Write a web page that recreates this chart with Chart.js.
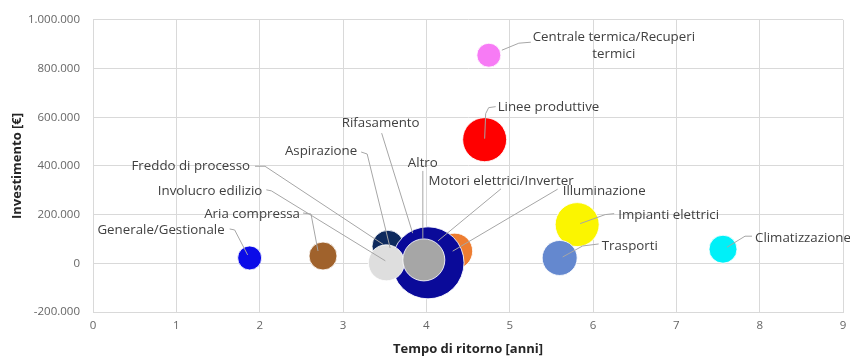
<!DOCTYPE html>
<html>
<head>
<meta charset="utf-8">
<script src="https://cdn.jsdelivr.net/npm/chart.js@4.4.1/dist/chart.umd.min.js"></script>
<style>
  html, body { margin: 0; padding: 0; background: #fff; }
  #wrap { width: 850px; height: 358px; }
</style>
</head>
<body>
<div id="wrap"><canvas id="chart"></canvas></div>
<script>
// categories in drawing order (back to front)
const names = [
  'Rifasamento', 'Aspirazione', 'Freddo di processo', 'Illuminazione',
  'Motori elettrici/Inverter', 'Involucro edilizio', 'Altro',
  'Generale/Gestionale', 'Aria compressa', 'Linee produttive',
  'Centrale termica/Recuperi termici', 'Impianti elettrici', 'Trasporti', 'Climatizzazione'
];
// tempo di ritorno [anni]
const payback = [3.92, 3.71, 3.54, 4.34, 4.02, 3.52, 3.97, 1.88, 2.76, 4.70, 4.75, 5.81, 5.60, 7.56];
// investimento [€]
const investment = [50000, 30000, 70000, 50000, 2000, 2000, 14000, 22000, 30000, 508000, 855000, 159000, 22000, 58000];
// bubble size
const bubbleSize = [10, 8, 16, 18, 36, 18, 21, 12, 14, 22, 12, 22, 17.5, 14];

const xTicks = [0, 1, 2, 3, 4, 5, 6, 7, 8, 9];
const yTicks = [-200000, 0, 200000, 400000, 600000, 800000, 1000000];

const colors = [
  '#1f3864', '#1f3864', '#0e2a5e', '#ed7d31', '#0a0a99', '#dedede', '#a6a6a6',
  '#0b0be8', '#a0622c', '#ff0000', '#f77bf5', '#fbf500', '#6488cf', '#00f0f8'
];

// label placement relative to the bubble centre (px): text anchor, alignment, leader path
const labelLayout = {
  'Generale/Gestionale': { t: [-25, -28], a: 'right', p: [[-20, -29], [-15, -28], [-2, -3]] },
  'Aria compressa': { t: [-23, -42], a: 'right', p: [[-20, -43], [-12, -42], [-5, -5]] },
  'Freddo di processo': { t: [-138, -80], a: 'right', p: [[-133, -80], [-123, -80], [-5, -2]] },
  'Aspirazione': { t: [-45, -105], a: 'right', p: [[-41, -104], [-35, -102], [-12, -8]] },
  'Rifasamento': { t: [-39, -128], a: 'center', p: [[-38, -118], [-7, -18]] },
  'Illuminazione': { t: [108, -60], a: 'left', p: [[103, -62], [-2, 0]] },
  'Motori elettrici/Inverter': { t: [73, -82], a: 'center', p: [[73, -74], [10, -22]] },
  'Involucro edilizio': { t: [-124, -72], a: 'right', p: [[-120, -73], [-115, -72], [-1, -2]] },
  'Altro': { t: [-1, -97], a: 'center', p: [[-1, -89], [-1, -21]] },
  'Linee produttive': { t: [13, -32], a: 'left', p: [[11, -33], [4, -32], [1, -26], [0, -1]] },
  'Centrale termica/Recuperi termici': { t: [125, -18], a: 'center', lines: ['Centrale termica/Recuperi', 'termici'], p: [[42, -13], [30, -12], [13, -5]] },
  'Impianti elettrici': { t: [41, -9], a: 'left', p: [[37, -11], [28, -10], [3, -1]] },
  'Trasporti': { t: [42, -12], a: 'left', p: [[39, -14], [23, -12], [3, -1]] },
  'Climatizzazione': { t: [32, -11], a: 'left', p: [[29, -13], [22, -13], [4, -2]] }
};

const fmt = v => (v < 0 ? '-' : '') + Math.abs(v).toString().replace(/\B(?=(\d{3})+(?!\d))/g, '.');

const points = names.map((n, i) => ({ x: payback[i], y: investment[i], r: bubbleSize[i] }));

const bubbleLabels = {
  id: 'bubbleLabels',
  afterDatasetsDraw(chart) {
    const ctx = chart.ctx;
    const meta = chart.getDatasetMeta(0);
    ctx.save();
    ctx.strokeStyle = '#a6a6a6';
    ctx.lineWidth = 1;
    names.forEach((n, i) => {
      const el = meta.data[i];
      const L = labelLayout[n];
      ctx.beginPath();
      L.p.forEach((pt, k) => {
        const px = el.x + pt[0], py = el.y + pt[1];
        if (k === 0) ctx.moveTo(px, py); else ctx.lineTo(px, py);
      });
      ctx.stroke();
    });
    ctx.font = '13.3px "Open Sans"';
    ctx.fillStyle = '#404040';
    ctx.textBaseline = 'middle';
    names.forEach((n, i) => {
      const el = meta.data[i];
      const L = labelLayout[n];
      ctx.textAlign = L.a;
      const lines = L.lines || [n];
      lines.forEach((line, k) => {
        ctx.fillText(line, el.x + L.t[0], el.y + L.t[1] + k * 17);
      });
    });
    ctx.restore();
  }
};

new Chart(document.getElementById('chart'), {
  type: 'bubble',
  data: {
    datasets: [{
      data: points,
      backgroundColor: colors,
      borderColor: 'rgba(255,255,255,0.85)',
      borderWidth: 1
    }]
  },
  options: {
    responsive: true,
    maintainAspectRatio: false,
    animation: false,
    layout: { autoPadding: false, padding: { top: 14, right: 7, left: 0, bottom: 0 } },
    plugins: { legend: { display: false }, tooltip: { enabled: false } },
    scales: {
      x: {
        type: 'linear',
        min: 0,
        max: 9,
        afterBuildTicks: s => { s.ticks = xTicks.map(v => ({ value: v })); },
        afterFit: s => { s.height = 46; s.paddingLeft = 0; s.paddingRight = 0; },
        grid: { color: '#d9d9d9', drawTicks: false },
        border: { color: '#d9d9d9' },
        ticks: { padding: 7, color: '#666', font: { family: 'Open Sans', size: 11.5 } },
        title: {
          display: true,
          text: 'Tempo di ritorno [anni]',
          color: '#262626',
          font: { family: 'Open Sans', size: 13, weight: 'bold' },
          padding: { top: 0, bottom: 1 }
        }
      },
      y: {
        type: 'linear',
        min: -200000,
        max: 1000000,
        afterBuildTicks: s => { s.ticks = yTicks.map(v => ({ value: v })); },
        afterFit: s => { s.width = 93; },
        grid: { color: '#d9d9d9', drawTicks: false },
        border: { color: '#d9d9d9' },
        ticks: { padding: 13, color: '#666', font: { family: 'Open Sans', size: 11.5 }, callback: v => fmt(v) },
        title: {
          display: true,
          text: 'Investimento [€]',
          color: '#262626',
          font: { family: 'Open Sans', size: 13, weight: 'bold' },
          padding: { top: 9, bottom: 0 }
        }
      }
    }
  },
  plugins: [bubbleLabels]
});
</script>
</body>
</html>
